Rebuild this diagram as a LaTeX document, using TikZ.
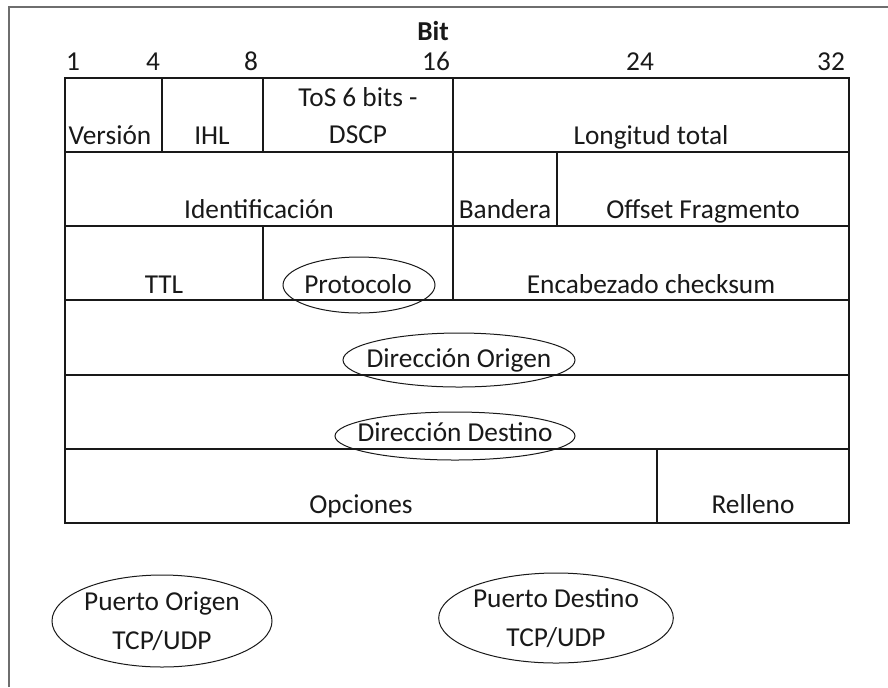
\documentclass[tikz,border=0pt]{standalone}
\usepackage{fontspec}
\setmainfont{Carlito}
\usetikzlibrary{shapes.geometric}
\definecolor{framegray}{RGB}{110,110,110}
\definecolor{inkdark}{RGB}{25,25,25}
\begin{document}
\begin{tikzpicture}[x=0.75pt,y=-0.75pt,
  grid/.style={draw=inkdark,line width=1.3pt},
  lbl/.style={anchor=base,inner sep=0pt,text=inkdark,font=\fontsize{20.5}{24}\selectfont},
  bitnum/.style={lbl},
  ringmark/.style={draw=inkdark,line width=0.75pt,ellipse,inner sep=0pt},
  portmark/.style={draw=inkdark,line width=0.75pt,ellipse,inner sep=0pt,align=center,
    text=inkdark,font=\fontsize{20.5}{29}\selectfont}]
\useasboundingbox (0,0) rectangle (888,687);
% partial page frame
\draw[framegray,line width=1.1pt] (9,687) -- (9,7) -- (888,7);

% bit ruler
\node[lbl,font=\bfseries\fontsize{20.5}{24}\selectfont] (bit) at (433,40) {Bit};
\node[bitnum] (b1) at (73,70) {1};
\node[bitnum] (b4) at (153,70) {4};
\node[bitnum] (b8) at (251,70) {8};
\node[bitnum] (b16) at (436,70) {16};
\node[bitnum] (b24) at (640,70) {24};
\node[bitnum] (b32) at (831,70) {32};

% header grid
\draw[grid] (65,78) rectangle (849,523);
\foreach \y in {152,226,300,375,449} \draw[grid] (65,\y) -- (849,\y);
\draw[grid] (162,78) -- (162,152);
\draw[grid] (263,78) -- (263,152);
\draw[grid] (453,78) -- (453,152);
\draw[grid] (453,152) -- (453,226);
\draw[grid] (557,152) -- (557,226);
\draw[grid] (263,226) -- (263,300);
\draw[grid] (453,226) -- (453,300);
\draw[grid] (657,449) -- (657,523);

% highlighted fields (sizes in pt: 1 unit = 0.75pt)
\node[ringmark,minimum width=114pt,minimum height=42pt] (eprot) at (359,285) {};
\node[ringmark,minimum width=174pt,minimum height=40.5pt] (eorig) at (459,360) {};
\node[ringmark,minimum width=180pt,minimum height=36pt] (edest) at (455,436) {};

% field labels
\node[lbl] (version) at (110,144) {Versión};
\node[lbl] (ihl) at (212,144) {IHL};
\node[lbl] (tos) at (358,106) {ToS 6 bits -};
\node[lbl] (dscp) at (358,143) {DSCP};
\node[lbl] (len) at (651,144) {Longitud total};
\node[lbl] (ident) at (259,218) {Identificación};
\node[lbl] (flag) at (505,218) {Bandera};
\node[lbl] (offset) at (703,218) {Offset Fragmento};
\node[lbl] (ttl) at (164,293) {TTL};
\node[lbl] (proto) at (358,293) {Protocolo};
\node[lbl] (chk) at (651,293) {Encabezado checksum};
\node[lbl] (src) at (459,367) {Dirección Origen};
\node[lbl] (dst) at (455,441) {Dirección Destino};
\node[lbl] (opts) at (361,513) {Opciones};
\node[lbl] (pad) at (753,513) {Relleno};

% transport ports
\node[portmark,minimum width=163.5pt,minimum height=69pt] (psrc) at (162,621) {Puerto Origen\\TCP/UDP};
\node[portmark,minimum width=163.5pt,minimum height=67.5pt] (pdst) at (556,618) {Puerto Destino\\TCP/UDP};
\end{tikzpicture}
\end{document}
